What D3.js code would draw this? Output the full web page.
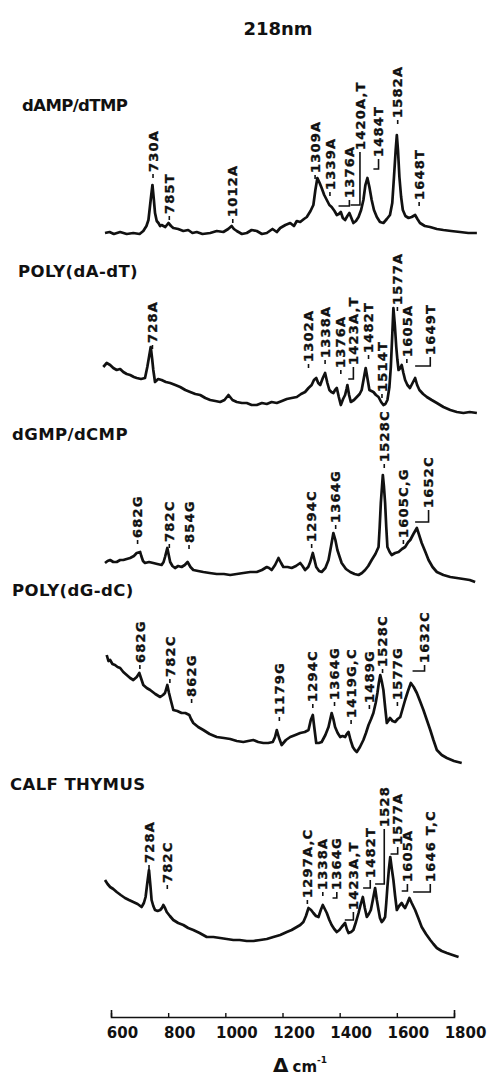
<!DOCTYPE html>
<html>
<head>
<meta charset="utf-8">
<script src="https://cdn.jsdelivr.net/npm/d3@7"></script>
<style>
  body { margin: 0; background: #fff; }
  svg { display: block; }
  text { font-family: "DejaVu Sans", sans-serif; font-weight: bold; fill: #111; }
</style>
</head>
<body>
<div id="chart"></div>
<script>
// Raman spectra: [wavenumber (cm-1), intensity (arb.)]
const titleText = "218nm";
const panelNames = ["dAMP/dTMP", "POLY(dA-dT)", "dGMP/dCMP", "POLY(dG-dC)", "CALF THYMUS"];
const wavenumberTicks = [600, 800, 1000, 1200, 1400, 1600, 1800];

const dampDtmp = [[579,2],[595,3],[610,1],[632,3],[655,1],[678,2],[700,1],[713,4],[724,9],[731,15],[740,38],[745,50],[750,35],[754,22],[760,14],[766,12],[772,9],[777,10],[790,8],[801,12],[810,9],[818,7],[835,6],[853,4],[870,5],[885,2],[900,3],[920,1],[947,2],[970,4],[993,3],[1010,6],[1022,9],[1030,6],[1040,4],[1058,1],[1075,2],[1092,5],[1110,4],[1128,1],[1145,2],[1165,6],[1180,3],[1192,7],[1210,10],[1227,12],[1240,9],[1250,14],[1262,13],[1275,16],[1285,18],[1298,24],[1308,30],[1315,45],[1322,57],[1330,52],[1337,47],[1346,40],[1355,35],[1364,30],[1372,28],[1382,24],[1390,20],[1397,21],[1404,23],[1411,17],[1419,15],[1427,19],[1434,22],[1441,17],[1448,12],[1457,14],[1466,18],[1475,25],[1483,35],[1490,50],[1497,57],[1504,48],[1512,35],[1520,25],[1530,18],[1541,13],[1553,12],[1565,16],[1576,20],[1584,32],[1590,58],[1596,85],[1600,100],[1604,85],[1609,58],[1615,38],[1621,25],[1630,19],[1641,17],[1652,18],[1664,20],[1672,16],[1681,12],[1698,9],[1716,8],[1740,6],[1763,5],[1790,4],[1821,3],[1850,2],[1880,2]];

const polyDADT = [[573,48],[585,52],[597,50],[608,47],[620,45],[632,46],[643,43],[655,41],[667,40],[680,38],[690,37],[705,36],[719,37],[727,48],[733,58],[739,68],[744,56],[748,45],[754,33],[765,36],[777,35],[792,33],[807,32],[825,30],[842,28],[860,25],[877,23],[895,21],[912,20],[930,17],[947,15],[965,14],[982,13],[997,15],[1011,20],[1025,15],[1040,13],[1058,12],[1075,12],[1092,10],[1110,10],[1128,12],[1145,11],[1162,13],[1180,12],[1198,14],[1215,16],[1232,17],[1250,18],[1265,21],[1279,23],[1291,27],[1302,30],[1310,35],[1318,37],[1325,32],[1332,30],[1341,37],[1349,42],[1357,32],[1364,25],[1371,23],[1378,22],[1384,25],[1390,27],[1397,18],[1404,10],[1412,16],[1419,20],[1424,26],[1427,30],[1433,20],[1439,13],[1450,15],[1460,18],[1470,21],[1477,25],[1484,36],[1491,47],[1497,37],[1504,25],[1511,24],[1518,23],[1527,20],[1536,18],[1545,13],[1553,10],[1560,11],[1567,15],[1574,28],[1579,48],[1584,80],[1588,107],[1593,90],[1598,68],[1602,55],[1606,45],[1612,47],[1617,50],[1623,42],[1629,35],[1637,30],[1646,27],[1655,32],[1664,37],[1671,30],[1679,25],[1692,21],[1705,18],[1722,15],[1740,12],[1763,8],[1787,5],[1810,3],[1833,2],[1855,3],[1880,2]];

const dgmpDcmp = [[579,19],[588,21],[597,22],[608,20],[620,20],[632,22],[643,22],[655,23],[667,24],[680,26],[690,29],[702,30],[706,26],[712,21],[719,19],[733,20],[748,19],[762,18],[777,17],[784,20],[789,25],[797,34],[802,27],[807,20],[815,16],[824,14],[835,16],[847,15],[858,17],[868,20],[878,15],[888,12],[905,11],[923,10],[945,9],[970,8],[995,8],[1017,7],[1040,8],[1063,9],[1087,10],[1110,10],[1128,12],[1145,15],[1153,14],[1162,12],[1174,17],[1186,24],[1195,19],[1203,15],[1218,15],[1232,14],[1247,16],[1262,19],[1270,16],[1279,12],[1290,15],[1297,20],[1306,29],[1312,22],[1318,15],[1328,11],[1337,10],[1350,14],[1361,22],[1370,36],[1378,49],[1385,42],[1392,32],[1400,25],[1407,19],[1422,13],[1437,10],[1452,8],[1466,7],[1478,9],[1489,12],[1500,16],[1512,22],[1525,28],[1536,35],[1540,55],[1544,79],[1551,107],[1555,95],[1559,79],[1563,55],[1567,35],[1575,30],[1582,27],[1594,29],[1606,30],[1618,33],[1629,35],[1640,40],[1647,42],[1658,48],[1670,54],[1678,47],[1687,39],[1700,30],[1711,22],[1725,15],[1740,10],[1763,7],[1787,5],[1810,4],[1833,3],[1855,2],[1874,0]];

const polyDGDC = [[585,110],[591,104],[597,105],[605,101],[614,100],[623,98],[632,97],[643,93],[655,90],[667,87],[678,85],[690,88],[699,92],[706,86],[713,80],[725,77],[737,75],[755,71],[772,68],[782,70],[789,72],[797,80],[803,72],[809,65],[818,55],[832,54],[847,52],[860,52],[874,50],[880,46],[888,42],[905,38],[923,35],[945,31],[970,28],[995,27],[1017,26],[1040,24],[1063,23],[1080,24],[1098,25],[1115,23],[1133,22],[1150,22],[1166,23],[1174,28],[1180,35],[1188,27],[1197,20],[1212,25],[1227,28],[1245,30],[1262,32],[1278,33],[1291,35],[1299,45],[1306,50],[1311,38],[1318,22],[1327,22],[1337,23],[1350,30],[1361,38],[1372,52],[1378,46],[1384,38],[1393,32],[1402,28],[1410,29],[1419,28],[1425,31],[1431,33],[1438,25],[1446,18],[1453,15],[1460,13],[1471,18],[1483,25],[1492,32],[1501,40],[1510,46],[1518,52],[1526,62],[1532,72],[1537,82],[1542,90],[1547,84],[1553,75],[1559,58],[1565,42],[1570,44],[1576,47],[1585,44],[1594,43],[1603,46],[1612,48],[1620,56],[1629,65],[1639,74],[1649,82],[1659,78],[1670,72],[1681,64],[1693,55],[1705,45],[1717,35],[1728,25],[1740,15],[1757,10],[1775,7],[1800,4],[1827,2]];

const calfThymus = [[579,78],[588,74],[597,71],[608,69],[620,66],[634,63],[649,60],[663,58],[678,56],[693,54],[707,51],[715,55],[721,61],[727,75],[733,88],[738,72],[742,58],[748,52],[754,48],[763,47],[772,48],[778,50],[783,53],[789,50],[795,46],[806,42],[818,38],[835,35],[853,33],[870,30],[888,28],[910,25],[935,21],[958,21],[982,20],[1005,19],[1028,18],[1050,18],[1075,17],[1098,17],[1122,18],[1145,19],[1168,21],[1192,23],[1215,26],[1232,28],[1250,31],[1262,33],[1273,36],[1282,42],[1291,50],[1300,48],[1308,45],[1317,42],[1326,41],[1334,48],[1341,53],[1348,49],[1355,45],[1364,38],[1372,33],[1381,29],[1390,26],[1399,28],[1407,31],[1413,33],[1419,35],[1425,29],[1431,25],[1440,26],[1448,28],[1457,36],[1466,45],[1474,54],[1481,61],[1488,50],[1495,41],[1502,44],[1509,48],[1516,58],[1524,70],[1530,58],[1536,48],[1541,40],[1547,36],[1553,38],[1559,41],[1563,55],[1567,71],[1572,88],[1577,101],[1582,90],[1588,78],[1594,62],[1600,48],[1608,52],[1617,55],[1623,52],[1629,50],[1637,55],[1644,60],[1652,55],[1664,48],[1675,40],[1687,31],[1702,24],[1717,18],[1728,14],[1740,10],[1757,7],[1775,5],[1795,3],[1816,1]];

// band assignments: text, wavenumber where the label stands, intensity at its foot,
// and (for bracketed ones) the band it points to and how far the leader drops
const dampDtmpBands = [
  {t: "730A", x: 747, y: 63}, {t: "785T", x: 804, y: 21}, {t: "1012A", x: 1026, y: 18},
  {t: "1309A", x: 1314, y: 62}, {t: "1339A", x: 1366, y: 45},
  {t: "1376A", x: 1434, y: 37, peak: 1396, drop: 6},
  {t: "1420A,T", x: 1471, y: 85, peak: 1438, drop: 53},
  {t: "1484T", x: 1536, y: 78, peak: 1518, drop: 10},
  {t: "1582A", x: 1603, y: 117}, {t: "1648T", x: 1678, y: 35}
];
const polyDADTBands = [
  {t: "728A", x: 745, y: 72}, {t: "1302A", x: 1291, y: 53}, {t: "1338A", x: 1349, y: 57},
  {t: "1376A", x: 1404, y: 47}, {t: "1423A,T", x: 1448, y: 50, peak: 1430, drop: 12},
  {t: "1482T", x: 1501, y: 62}, {t: "1514T", x: 1548, y: 23},
  {t: "1577A", x: 1602, y: 110}, {t: "1605A", x: 1635, y: 58},
  {t: "1649T", x: 1717, y: 60, peak: 1664, drop: 9}
];
const dgmpDcmpBands = [
  {t: "682G", x: 693, y: 44}, {t: "782C", x: 804, y: 40}, {t: "854G", x: 873, y: 39},
  {t: "1294C", x: 1302, y: 40}, {t: "1364G", x: 1386, y: 59}, {t: "1528C", x: 1556, y: 120},
  {t: "1605C,G", x: 1623, y: 44}, {t: "1652C", x: 1711, y: 74, peak: 1664, drop: 12}
];
const polyDGDCBands = [
  {t: "682G", x: 701, y: 102}, {t: "782C", x: 806, y: 88}, {t: "862G", x: 882, y: 68},
  {t: "1179G", x: 1189, y: 50}, {t: "1294C", x: 1306, y: 63}, {t: "1364G", x: 1382, y: 65},
  {t: "1419G,C", x: 1440, y: 47}, {t: "1489G", x: 1504, y: 62}, {t: "1528C", x: 1550, y: 98},
  {t: "1577G", x: 1602, y: 65}, {t: "1632C", x: 1697, y: 102, peak: 1655, drop: 6}
];
const calfThymusBands = [
  {t: "728A", x: 733, y: 95}, {t: "782C", x: 797, y: 75}, {t: "1297A,C", x: 1287, y: 60},
  {t: "1338A", x: 1341, y: 68}, {t: "1364G", x: 1390, y: 68, peak: 1375, drop: 6},
  {t: "1423A,T", x: 1448, y: 48, peak: 1418, drop: 8},
  {t: "1482T", x: 1507, y: 80, peak: 1482, drop: 8},
  {t: "1528", x: 1556, y: 131, peak: 1524, drop: 55},
  {t: "1577A", x: 1603, y: 113, peak: 1578, drop: 7},
  {t: "1605A", x: 1637, y: 76, peak: 1617, drop: 7},
  {t: "1646 T,C", x: 1717, y: 76, peak: 1657, drop: 8}
];

const spectra = [dampDtmp, polyDADT, dgmpDcmp, polyDGDC, calfThymus];
const bands = [dampDtmpBands, polyDADTBands, dgmpDcmpBands, polyDGDCBands, calfThymusBands];

// layout
const width = 491, height = 1078;
const panelBase = [235, 415, 582, 765, 958];
const nameX = [22, 18, 12, 12, 10];
const nameY = [111, 277, 440, 596, 790];
const axisY = 1017;

const svg = d3.select("#chart").append("svg")
  .attr("width", width)
  .attr("height", height);

const x = d3.scaleLinear().domain([600, 1800]).range([111, 454]);

svg.append("text")
  .attr("x", 278).attr("y", 35)
  .attr("text-anchor", "middle")
  .attr("font-size", "18px")
  .text(titleText);

spectra.forEach((data, i) => {
  const base = panelBase[i];
  const y = d3.scaleLinear().domain([0, 100]).range([base, base - 100]);
  const g = svg.append("g");

  g.append("text")
    .attr("x", nameX[i]).attr("y", nameY[i])
    .attr("font-size", "16.5px")
    .attr("letter-spacing", i === 0 ? "-0.6px" : "0.4px")
    .text(panelNames[i]);

  const line = d3.line()
    .x(d => x(d[0]))
    .y(d => y(d[1]));

  g.append("path")
    .datum(data)
    .attr("d", line)
    .attr("fill", "none")
    .attr("stroke", "#111")
    .attr("stroke-width", 2.7)
    .attr("stroke-linejoin", "round");

  // labels, rotated to read bottom to top
  g.selectAll(".band")
    .data(bands[i])
    .enter()
    .append("text")
    .attr("class", "band")
    .attr("transform", d => `translate(${x(d.x)},${y(d.y)}) rotate(-90)`)
    .attr("dy", "0.36em")
    .attr("font-size", "13px")
    .attr("letter-spacing", "1.2px")
    .attr("stroke", "#111")
    .attr("stroke-width", 0.35)
    .text(d => d.t);

  g.selectAll(".leader")
    .data(bands[i])
    .enter()
    .append("path")
    .attr("class", "leader")
    .attr("fill", "none")
    .attr("stroke", "#111")
    .attr("stroke-width", 1.6)
    .attr("d", d => {
      if (d.peak === undefined) {
        return `M${x(d.x)},${y(d.y - 2)}V${y(d.y - 6)}`;
      }
      return `M${x(d.x)},${y(d.y - 2)}V${y(d.y - 2 - d.drop)}H${x(d.peak)}`;
    });
});

// wavenumber axis
const axis = d3.axisBottom(x)
  .tickValues(wavenumberTicks)
  .tickFormat(d3.format("d"))
  .tickSizeInner(-4)
  .tickSizeOuter(-7)
  .tickPadding(10);

const ax = svg.append("g")
  .attr("transform", `translate(0,${axisY})`)
  .call(axis);

ax.select(".domain").attr("stroke", "#111").attr("stroke-width", 1.6);
ax.selectAll(".tick line").attr("stroke", "#111").attr("stroke-width", 1.4);
ax.selectAll(".tick text")
  .attr("dx", 11)
  .attr("font-size", "15px")
  .attr("font-family", "DejaVu Sans, sans-serif")
  .attr("font-weight", "bold")
  .attr("fill", "#111");

const title = svg.append("text")
  .attr("x", 273).attr("y", 1072)
  .attr("font-size", "15px");
title.append("tspan").attr("font-size", "20px").text("Δ");
title.append("tspan").attr("dx", 4).text("cm");
title.append("tspan").attr("font-size", "9px").attr("dy", -9).text("-1");
</script>
</body>
</html>
